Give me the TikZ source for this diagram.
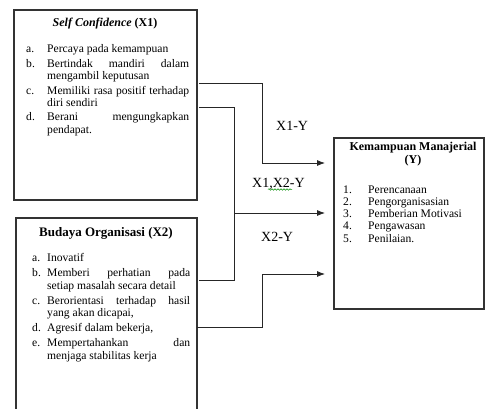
\documentclass[tikz,border=0pt]{standalone}
\usepackage{fontspec}
\setmainfont{Liberation Serif}
\usetikzlibrary{arrows.meta,decorations.pathmorphing}
\tikzset{
	box/.style={line width=1.1pt, draw=black!80},
	link/.style={line width=0.8pt, draw=black!85},
	arrowlink/.style={link, -{Latex[length=8pt,width=6pt]}},
	lbl/.style={anchor=base west, inner sep=0pt, font=\fontsize{14}{16}\selectfont},
}
\newcommand{\jline}[1]{\makebox[\linewidth][s]{#1}}
\newcommand{\bodysize}{\fontsize{11.6}{12.3}\selectfont}

\begin{document}
\begin{tikzpicture}[x=1pt, y=-1pt]
			%%%%% START %%%%%
			\useasboundingbox (0, 0) rectangle (486, 408);
			\clip (0, 0) rectangle (486, 408);
			
			% boxes
			\draw[box] (14, 10) rectangle (197, 200);
			\draw[box] (16, 218) rectangle (197, 415);
			\draw[box] (334, 138) rectangle (484, 309);
			
			% titles
			\node[anchor=base, inner sep=0pt, font=\fontsize{12}{13}\selectfont] (t1) at (105, 26)
				{\textbf{\textit{Self Confidence} (X1)}};
			\node[anchor=base, inner sep=0pt, font=\fontsize{13}{14}\selectfont] (t2) at (106, 236)
				{\textbf{Budaya Organisasi (X2)}};
			\node[anchor=base, inner sep=0pt, font=\fontsize{12}{13}\selectfont] (t3) at (413, 150)
				{\begin{tabular}[t]{@{}c@{}}\textbf{Kemampuan Manajerial}\\\textbf{(Y)}\end{tabular}};
			
			% lists
			\node[anchor=base west, inner sep=0pt, font=\bodysize] (l1) at (26, 52.7) {%
				\begin{tabular}[t]{@{}p{21pt}@{}p{142pt}@{}}
				a. & Percaya pada kemampuan\\[2.2pt]
				b. & \jline{Bertindak mandiri dalam}\\
				   & mengambil keputusan\\[2.2pt]
				c. & \jline{Memiliki rasa positif terhadap}\\
				   & diri sendiri\\[2.2pt]
				d. & \jline{Berani mengungkapkan}\\
				   & pendapat.
				\end{tabular}};
			\node[anchor=base west, inner sep=0pt, font=\bodysize] (l2) at (32, 261.7) {%
				\begin{tabular}[t]{@{}p{15pt}@{}p{143pt}@{}}
				a. & Inovatif\\[2.8pt]
				b. & \jline{Memberi perhatian pada}\\
				   & setiap masalah secara detail\\[2.8pt]
				c. & \jline{Berorientasi terhadap hasil}\\
				   & yang akan dicapai,\\[2.8pt]
				d. & Agresif dalam bekerja,\\[2.8pt]
				e. & \jline{Mempertahankan dan}\\
				   & menjaga stabilitas kerja
				\end{tabular}};
			\node[anchor=base west, inner sep=0pt, font=\bodysize] (l3) at (343, 193) {%
				\begin{tabular}[t]{@{}p{25pt}@{}l@{}}
				1. & Perencanaan\\
				2. & Pengorganisasian\\
				3. & Pemberian Motivasi\\
				4. & Pengawasan\\
				5. & Penilaian.
				\end{tabular}};
			
			% connector points
			\coordinate (s1) at (199, 83);
			\coordinate (s2) at (199, 107);
			\coordinate (s3) at (199, 280);
			\coordinate (s4) at (197, 327);
			\coordinate (e1) at (325, 163);
			\coordinate (e2) at (325, 213);
			\coordinate (e3) at (325, 274);
			\coordinate (k2) at (234, 213);
			
			\draw[arrowlink] (s1) -| (262, 163) -- (e1);
			\draw[link] (s2) -| (234, 280) -- (s3);
			\draw[arrowlink] (k2) -- (e2);
			\draw[arrowlink] (s4) -| (262, 274) -- (e3);
			
			% labels
			\node[lbl] (xy1) at (276, 130) {X1-Y};
			\node[lbl] (xy12) at (252, 187) {X1,X2-Y};
			\node[lbl] (xy2) at (261, 241) {X2-Y};
			\draw[green!55!black, line width=0.5pt, decorate,
				decoration={snake, amplitude=0.8pt, segment length=3pt}] (268, 189.5) -- (292, 189.5);
			
			%%%%% END %%%%%
\end{tikzpicture}
\end{document}
